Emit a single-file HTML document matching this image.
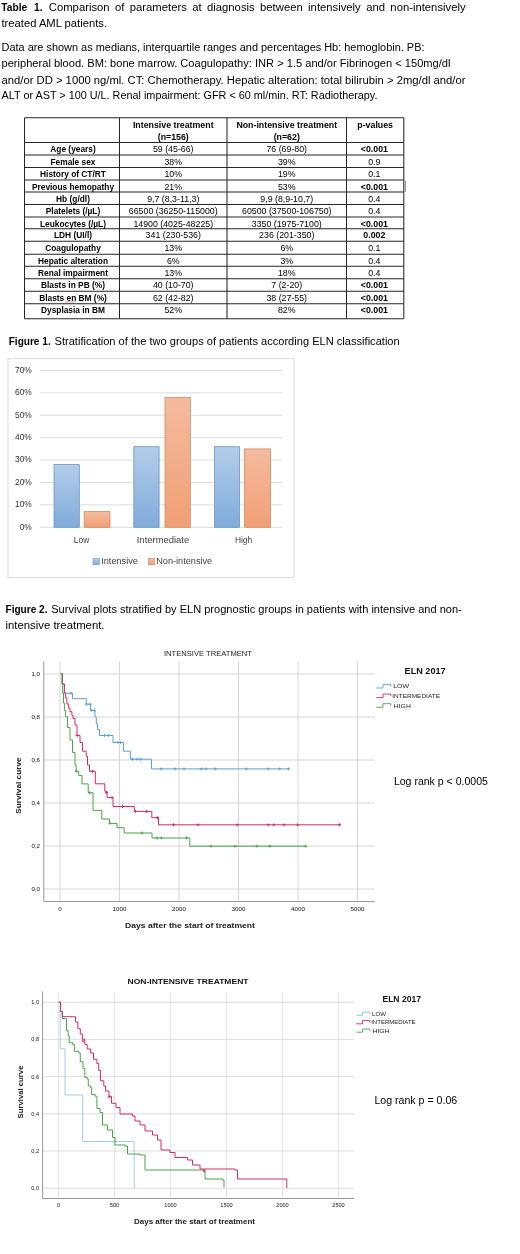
<!DOCTYPE html>
<html><head><meta charset="utf-8"><title>Table 1 / Figures</title>
<style>
html,body{margin:0;padding:0;background:#fff;}
body{width:520px;height:1254px;overflow:hidden;font-family:"Liberation Sans",sans-serif;}
svg{display:block;filter:blur(0.3px);font-family:"Liberation Sans",sans-serif;}
.b{font-weight:bold}
.body{font-size:10px;fill:#000}
.tc{font-size:8.8px;fill:#000;text-anchor:middle}
.ax{font-size:6.2px;fill:#111}
</style></head><body>
<svg width="520" height="1254" viewBox="0 0 520 1254">
<rect width="520" height="1254" fill="#fff"/>

<g id="paras">
<text x="1.3" y="11.3" class="body b" textLength="41.2" lengthAdjust="spacingAndGlyphs" word-spacing="4">Table 1.</text>
<text x="48.8" y="11.3" class="body" textLength="416.8" lengthAdjust="spacingAndGlyphs" word-spacing="2">Comparison of parameters at diagnosis between intensively and non-intensively</text>
<text x="1.5" y="27.2" class="body" textLength="105.5" lengthAdjust="spacingAndGlyphs">treated AML patients.</text>
<text x="1.5" y="51.2" class="body" textLength="423" lengthAdjust="spacingAndGlyphs">Data are shown as medians, interquartile ranges and percentages Hb: hemoglobin. PB:</text>
<text x="1.5" y="67.3" class="body" textLength="449" lengthAdjust="spacingAndGlyphs">peripheral blood. BM: bone marrow. Coagulopathy: INR &gt; 1.5 and/or Fibrinogen &lt; 150mg/dl</text>
<text x="1.5" y="83.5" class="body" textLength="464" lengthAdjust="spacingAndGlyphs">and/or DD &gt; 1000 ng/ml. CT: Chemotherapy. Hepatic alteration: total bilirubin &gt; 2mg/dl and/or</text>
<text x="1.5" y="99.3" class="body" textLength="376" lengthAdjust="spacingAndGlyphs">ALT or AST &gt; 100 U/L. Renal impairment: GFR &lt; 60 ml/min. RT: Radiotherapy.</text>
</g>
<g id="table" stroke="#262626" stroke-width="1.05" fill="none">
<line x1="24.5" y1="117.8" x2="24.5" y2="318.7"/>
<line x1="119.5" y1="117.8" x2="119.5" y2="318.7"/>
<line x1="227" y1="117.8" x2="227" y2="318.7"/>
<line x1="346.5" y1="117.8" x2="346.5" y2="318.7"/>
<line x1="403.8" y1="117.8" x2="403.8" y2="318.7"/>
<line x1="24.5" y1="117.8" x2="403.8" y2="117.8"/>
<line x1="24.5" y1="142.5" x2="403.8" y2="142.5"/>
<line x1="24.5" y1="155" x2="403.8" y2="155"/>
<line x1="24.5" y1="167.5" x2="403.8" y2="167.5"/>
<line x1="24.5" y1="180" x2="403.8" y2="180"/>
<line x1="24.5" y1="192" x2="403.8" y2="192"/>
<line x1="24.5" y1="204.5" x2="403.8" y2="204.5"/>
<line x1="24.5" y1="217" x2="403.8" y2="217"/>
<line x1="24.5" y1="228.8" x2="403.8" y2="228.8"/>
<line x1="24.5" y1="241.3" x2="403.8" y2="241.3"/>
<line x1="24.5" y1="254.2" x2="403.8" y2="254.2"/>
<line x1="24.5" y1="266.3" x2="403.8" y2="266.3"/>
<line x1="24.5" y1="278.8" x2="403.8" y2="278.8"/>
<line x1="24.5" y1="291.2" x2="403.8" y2="291.2"/>
<line x1="24.5" y1="303.8" x2="403.8" y2="303.8"/>
<line x1="24.5" y1="318.7" x2="403.8" y2="318.7"/>
<line x1="405.3" y1="180.5" x2="405.3" y2="192" stroke="#666" stroke-width="0.8"/>
</g>
<g id="tabletext">
<text x="173.25" y="128.2" class="tc b">Intensive treatment</text>
<text x="173.25" y="139.7" class="tc b">(n=156)</text>
<text x="286.75" y="128.2" class="tc b">Non-intensive treatment</text>
<text x="286.75" y="139.7" class="tc b">(n=62)</text>
<text x="375.15" y="128.2" class="tc b">p-values</text>
<text x="73" y="152.1" class="tc b" style="font-size:8.35px">Age (years)</text>
<text x="173.25" y="152.1" class="tc">59 (45-66)</text>
<text x="286.75" y="152.1" class="tc">76 (69-80)</text>
<text x="374.34999999999997" y="152.1" class="tc b">&lt;0.001</text>
<text x="73" y="164.6" class="tc b" style="font-size:8.35px">Female sex</text>
<text x="173.25" y="164.6" class="tc">38%</text>
<text x="286.75" y="164.6" class="tc">39%</text>
<text x="374.34999999999997" y="164.6" class="tc">0.9</text>
<text x="73" y="177.1" class="tc b" style="font-size:8.35px">History of CT/RT</text>
<text x="173.25" y="177.1" class="tc">10%</text>
<text x="286.75" y="177.1" class="tc">19%</text>
<text x="374.34999999999997" y="177.1" class="tc">0.1</text>
<text x="73" y="189.6" class="tc b" style="font-size:8.35px">Previous hemopathy</text>
<text x="173.25" y="189.6" class="tc">21%</text>
<text x="286.75" y="189.6" class="tc">53%</text>
<text x="374.34999999999997" y="189.6" class="tc b">&lt;0.001</text>
<text x="73" y="201.6" class="tc b" style="font-size:8.35px">Hb (g/dl)</text>
<text x="173.25" y="201.6" class="tc">9,7 (8,3-11,3)</text>
<text x="286.75" y="201.6" class="tc">9,9 (8,9-10,7)</text>
<text x="374.34999999999997" y="201.6" class="tc">0.4</text>
<text x="73" y="214.1" class="tc b" style="font-size:8.35px">Platelets (/µL)</text>
<text x="173.25" y="214.1" class="tc">66500 (36250-115000)</text>
<text x="286.75" y="214.1" class="tc">60500 (37500-106750)</text>
<text x="374.34999999999997" y="214.1" class="tc">0.4</text>
<text x="73" y="226.6" class="tc b" style="font-size:8.35px">Leukocytes (/µL)</text>
<text x="173.25" y="226.6" class="tc">14900 (4025-48225)</text>
<text x="286.75" y="226.6" class="tc">3350 (1975-7100)</text>
<text x="374.34999999999997" y="226.6" class="tc b">&lt;0.001</text>
<text x="73" y="238.4" class="tc b" style="font-size:8.35px">LDH (UI/l)</text>
<text x="173.25" y="238.4" class="tc">341 (230-536)</text>
<text x="286.75" y="238.4" class="tc">236 (201-350)</text>
<text x="374.34999999999997" y="238.4" class="tc b">0.002</text>
<text x="73" y="250.9" class="tc b" style="font-size:8.35px">Coagulopathy</text>
<text x="173.25" y="250.9" class="tc">13%</text>
<text x="286.75" y="250.9" class="tc">6%</text>
<text x="374.34999999999997" y="250.9" class="tc">0.1</text>
<text x="73" y="263.8" class="tc b" style="font-size:8.35px">Hepatic alteration</text>
<text x="173.25" y="263.8" class="tc">6%</text>
<text x="286.75" y="263.8" class="tc">3%</text>
<text x="374.34999999999997" y="263.8" class="tc">0.4</text>
<text x="73" y="275.9" class="tc b" style="font-size:8.35px">Renal impairment</text>
<text x="173.25" y="275.9" class="tc">13%</text>
<text x="286.75" y="275.9" class="tc">18%</text>
<text x="374.34999999999997" y="275.9" class="tc">0.4</text>
<text x="73" y="288.4" class="tc b" style="font-size:8.35px">Blasts in PB (%)</text>
<text x="173.25" y="288.4" class="tc">40 (10-70)</text>
<text x="286.75" y="288.4" class="tc">7 (2-20)</text>
<text x="374.34999999999997" y="288.4" class="tc b">&lt;0.001</text>
<text x="73" y="300.8" class="tc b" style="font-size:8.35px">Blasts en BM (%)</text>
<text x="173.25" y="300.8" class="tc">62 (42-82)</text>
<text x="286.75" y="300.8" class="tc">38 (27-55)</text>
<text x="374.34999999999997" y="300.8" class="tc b">&lt;0.001</text>
<text x="73" y="313.4" class="tc b" style="font-size:8.35px">Dysplasia in BM</text>
<text x="173.25" y="313.4" class="tc">52%</text>
<text x="286.75" y="313.4" class="tc">82%</text>
<text x="374.34999999999997" y="313.4" class="tc b">&lt;0.001</text>
</g>
<path d="M65.5,302.5 l1.2,-0.9 l1.2,0.9 l1.2,-0.9 l1.2,0.9 l1.2,-0.9 l1.2,0.9 l1.2,-0.9 l1.2,0.9" fill="none" stroke="#e0524f" stroke-width="0.6"/>
<text x="8.7" y="344.6" class="body b" textLength="42" lengthAdjust="spacingAndGlyphs">Figure 1.</text>
<text x="54.5" y="344.6" class="body" textLength="345.2" lengthAdjust="spacingAndGlyphs">Stratification of the two groups of patients according ELN classification</text>
<defs>
<linearGradient id="gb" x1="0" y1="0" x2="0" y2="1"><stop offset="0" stop-color="#b3cdea"/><stop offset="1" stop-color="#80abdb"/></linearGradient>
<linearGradient id="go" x1="0" y1="0" x2="0" y2="1"><stop offset="0" stop-color="#f5bb9f"/><stop offset="1" stop-color="#f19f75"/></linearGradient>
</defs>
<g id="fig1">
<rect x="8" y="358.7" width="286" height="218.8" fill="#fff" stroke="#d9d9d9" stroke-width="1"/>
<line x1="40" y1="527.3" x2="282.5" y2="527.3" stroke="#dcdcdc" stroke-width="1"/>
<text x="31.8" y="529.6" font-size="8.4" fill="#333" text-anchor="end">0%</text>
<line x1="40" y1="504.9" x2="282.5" y2="504.9" stroke="#dcdcdc" stroke-width="1"/>
<text x="31.8" y="507.2" font-size="8.4" fill="#333" text-anchor="end">10%</text>
<line x1="40" y1="482.5" x2="282.5" y2="482.5" stroke="#dcdcdc" stroke-width="1"/>
<text x="31.8" y="484.8" font-size="8.4" fill="#333" text-anchor="end">20%</text>
<line x1="40" y1="460.1" x2="282.5" y2="460.1" stroke="#dcdcdc" stroke-width="1"/>
<text x="31.8" y="462.4" font-size="8.4" fill="#333" text-anchor="end">30%</text>
<line x1="40" y1="437.7" x2="282.5" y2="437.7" stroke="#dcdcdc" stroke-width="1"/>
<text x="31.8" y="440.0" font-size="8.4" fill="#333" text-anchor="end">40%</text>
<line x1="40" y1="415.3" x2="282.5" y2="415.3" stroke="#dcdcdc" stroke-width="1"/>
<text x="31.8" y="417.6" font-size="8.4" fill="#333" text-anchor="end">50%</text>
<line x1="40" y1="392.9" x2="282.5" y2="392.9" stroke="#dcdcdc" stroke-width="1"/>
<text x="31.8" y="395.2" font-size="8.4" fill="#333" text-anchor="end">60%</text>
<line x1="40" y1="370.5" x2="282.5" y2="370.5" stroke="#dcdcdc" stroke-width="1"/>
<text x="31.8" y="372.8" font-size="8.4" fill="#333" text-anchor="end">70%</text>
<rect x="54" y="464.6" width="25.3" height="62.7" fill="url(#gb)" stroke="#6e93c0" stroke-width="0.8"/>
<rect x="84.2" y="511.6" width="25.8" height="15.7" fill="url(#go)" stroke="#cc8c60" stroke-width="0.8"/>
<rect x="133.8" y="446.7" width="25.3" height="80.6" fill="url(#gb)" stroke="#6e93c0" stroke-width="0.8"/>
<rect x="165" y="397.4" width="25.3" height="129.9" fill="url(#go)" stroke="#cc8c60" stroke-width="0.8"/>
<rect x="214.5" y="446.7" width="24.9" height="80.6" fill="url(#gb)" stroke="#6e93c0" stroke-width="0.8"/>
<rect x="244.6" y="448.9" width="26.0" height="78.4" fill="url(#go)" stroke="#cc8c60" stroke-width="0.8"/>
<text x="81.5" y="543" font-size="8.4" fill="#404040" text-anchor="middle">Low</text>
<text x="163" y="543" font-size="8.4" fill="#404040" text-anchor="middle" textLength="52.5" lengthAdjust="spacingAndGlyphs">Intermediate</text>
<text x="243.5" y="543" font-size="8.4" fill="#404040" text-anchor="middle">High</text>
<rect x="93" y="558.4" width="6.4" height="6.4" fill="url(#gb)" stroke="#6f9bd0" stroke-width="0.6"/>
<text x="101.2" y="564.2" font-size="8.4" fill="#404040" textLength="36.7" lengthAdjust="spacingAndGlyphs">Intensive</text>
<rect x="148.4" y="558.4" width="6.4" height="6.4" fill="url(#go)" stroke="#d48c62" stroke-width="0.6"/>
<text x="156.2" y="564.2" font-size="8.4" fill="#404040" textLength="56" lengthAdjust="spacingAndGlyphs">Non-intensive</text>
</g>
<text x="5.5" y="613.2" class="body b" textLength="42" lengthAdjust="spacingAndGlyphs">Figure 2.</text>
<text x="51.2" y="613.2" class="body" textLength="410.6" lengthAdjust="spacingAndGlyphs">Survival plots stratified by ELN prognostic groups in patients with intensive and non-</text>
<text x="5.5" y="629.2" class="body" textLength="99" lengthAdjust="spacingAndGlyphs">intensive treatment.</text>
<g id="plot1">
<line x1="60.0" y1="661.5" x2="60.0" y2="901.6" stroke="#cbcbcb" stroke-width="0.8"/>
<line x1="119.5" y1="661.5" x2="119.5" y2="901.6" stroke="#cbcbcb" stroke-width="0.8"/>
<line x1="179.0" y1="661.5" x2="179.0" y2="901.6" stroke="#cbcbcb" stroke-width="0.8"/>
<line x1="238.5" y1="661.5" x2="238.5" y2="901.6" stroke="#cbcbcb" stroke-width="0.8"/>
<line x1="298.0" y1="661.5" x2="298.0" y2="901.6" stroke="#cbcbcb" stroke-width="0.8"/>
<line x1="357.5" y1="661.5" x2="357.5" y2="901.6" stroke="#cbcbcb" stroke-width="0.8"/>
<line x1="44" y1="889" x2="374.7" y2="889" stroke="#cbcbcb" stroke-width="0.8"/>
<line x1="44" y1="846" x2="374.7" y2="846" stroke="#cbcbcb" stroke-width="0.8"/>
<line x1="44" y1="803" x2="374.7" y2="803" stroke="#cbcbcb" stroke-width="0.8"/>
<line x1="44" y1="760" x2="374.7" y2="760" stroke="#cbcbcb" stroke-width="0.8"/>
<line x1="44" y1="717" x2="374.7" y2="717" stroke="#cbcbcb" stroke-width="0.8"/>
<line x1="44" y1="674" x2="374.7" y2="674" stroke="#cbcbcb" stroke-width="0.8"/>
<path d="M43.8,661.5 V901.6 H374.7" fill="none" stroke="#8a8a8a" stroke-width="0.9"/>
<text x="40" y="891.2" class="ax" text-anchor="end">0,0</text>
<text x="40" y="848.2" class="ax" text-anchor="end">0,2</text>
<text x="40" y="805.2" class="ax" text-anchor="end">0,4</text>
<text x="40" y="762.2" class="ax" text-anchor="end">0,6</text>
<text x="40" y="719.2" class="ax" text-anchor="end">0,8</text>
<text x="40" y="676.2" class="ax" text-anchor="end">1,0</text>
<text x="60.0" y="911" class="ax" text-anchor="middle">0</text>
<text x="119.5" y="911" class="ax" text-anchor="middle">1000</text>
<text x="179.0" y="911" class="ax" text-anchor="middle">2000</text>
<text x="238.5" y="911" class="ax" text-anchor="middle">3000</text>
<text x="298.0" y="911" class="ax" text-anchor="middle">4000</text>
<text x="357.5" y="911" class="ax" text-anchor="middle">5000</text>
<text x="208" y="656.2" font-size="7.8" fill="#222" text-anchor="middle" textLength="88" lengthAdjust="spacingAndGlyphs">INTENSIVE TREATMENT</text>
<text x="190" y="928" font-size="7.6" fill="#222" font-weight="bold" text-anchor="middle" textLength="130" lengthAdjust="spacingAndGlyphs">Days after the start of treatment</text>
<text transform="translate(21.3,785.6) rotate(-90)" font-size="7.4" fill="#222" font-weight="bold" text-anchor="middle" textLength="56.5" lengthAdjust="spacingAndGlyphs">Survival curve</text>
<path d="M60.8,673.8 L62.5,673.8 L62.5,684 L64.4,684 L64.4,693.2 L72.5,693.2 L72.5,698.7 L86.3,698.7 L86.3,704.2 L90.6,704.2 L90.6,710.5 L95,710.5 L95,717 L96.3,717 L96.3,723.5 L97.5,723.5 L97.5,729.5 L99.5,729.5 L99.5,735.5 L113,735.5 L113,742.5 L123.5,742.5 L123.5,751.2 L130.3,751.2 L130.3,759.2 L151.5,759.2 L151.5,768.9 L289.5,768.9" fill="none" stroke="#5b9fd8" stroke-width="1.0" stroke-linejoin="miter"/>
<path d="M69.5,693.2 H72.5 M71,691.7 V694.7" stroke="#5b9fd8" stroke-width="0.9" fill="none"/>
<path d="M84.8,704.2 H87.8 M86.3,702.7 V705.7" stroke="#5b9fd8" stroke-width="0.9" fill="none"/>
<path d="M88.5,704.2 H91.5 M90,702.7 V705.7" stroke="#5b9fd8" stroke-width="0.9" fill="none"/>
<path d="M90.3,710.5 H93.3 M91.8,709.0 V712.0" stroke="#5b9fd8" stroke-width="0.9" fill="none"/>
<path d="M92.9,710.5 H95.9 M94.4,709.0 V712.0" stroke="#5b9fd8" stroke-width="0.9" fill="none"/>
<path d="M103.0,735.5 H106.0 M104.5,734.0 V737.0" stroke="#5b9fd8" stroke-width="0.9" fill="none"/>
<path d="M107.2,735.5 H110.2 M108.7,734.0 V737.0" stroke="#5b9fd8" stroke-width="0.9" fill="none"/>
<path d="M116.5,742.5 H119.5 M118,741.0 V744.0" stroke="#5b9fd8" stroke-width="0.9" fill="none"/>
<path d="M119.0,742.5 H122.0 M120.5,741.0 V744.0" stroke="#5b9fd8" stroke-width="0.9" fill="none"/>
<path d="M131.0,759.2 H134.0 M132.5,757.7 V760.7" stroke="#5b9fd8" stroke-width="0.9" fill="none"/>
<path d="M135.5,759.2 H138.5 M137,757.7 V760.7" stroke="#5b9fd8" stroke-width="0.9" fill="none"/>
<path d="M139.0,759.2 H142.0 M140.5,757.7 V760.7" stroke="#5b9fd8" stroke-width="0.9" fill="none"/>
<path d="M159.7,768.9 H162.7 M161.2,767.4 V770.4" stroke="#5b9fd8" stroke-width="0.9" fill="none"/>
<path d="M173.5,768.9 H176.5 M175,767.4 V770.4" stroke="#5b9fd8" stroke-width="0.9" fill="none"/>
<path d="M182.5,768.9 H185.5 M184,767.4 V770.4" stroke="#5b9fd8" stroke-width="0.9" fill="none"/>
<path d="M199.7,768.9 H202.7 M201.2,767.4 V770.4" stroke="#5b9fd8" stroke-width="0.9" fill="none"/>
<path d="M204.5,768.9 H207.5 M206,767.4 V770.4" stroke="#5b9fd8" stroke-width="0.9" fill="none"/>
<path d="M213.8,768.9 H216.8 M215.3,767.4 V770.4" stroke="#5b9fd8" stroke-width="0.9" fill="none"/>
<path d="M244.8,768.9 H247.8 M246.3,767.4 V770.4" stroke="#5b9fd8" stroke-width="0.9" fill="none"/>
<path d="M266.7,768.9 H269.7 M268.2,767.4 V770.4" stroke="#5b9fd8" stroke-width="0.9" fill="none"/>
<path d="M278.2,768.9 H281.2 M279.7,767.4 V770.4" stroke="#5b9fd8" stroke-width="0.9" fill="none"/>
<path d="M287.0,768.9 H290.0 M288.5,767.4 V770.4" stroke="#5b9fd8" stroke-width="0.9" fill="none"/>
<path d="M60.8,673.8 L62.5,673.8 L62.5,684 L64.4,684 L64.4,693 L65.6,693 L65.6,698 L66.9,698 L66.9,704 L68.7,704 L68.7,708 L70,708 L70,711.7 L71.9,711.7 L71.9,715.5 L73.1,715.5 L73.1,718.6 L75,718.6 L75,725 L77,725 L77,735.5 L80,735.5 L80,742.5 L82.5,742.5 L82.5,751.2 L86.2,751.2 L86.2,756.2 L87.5,756.2 L87.5,765 L89.5,765 L89.5,771.3 L95.3,771.3 L95.3,783.8 L104.8,783.8 L104.8,791.3 L107,791.3 L107,797.5 L113,797.5 L113,806.5 L134.3,806.5 L134.3,811.4 L151.8,811.4 L151.8,817.7 L158.5,817.7 L158.5,824.8 L340.7,824.8" fill="none" stroke="#d42a62" stroke-width="1.0" stroke-linejoin="miter"/>
<path d="M75.5,735.5 H78.5 M77,734.0 V737.0" stroke="#d42a62" stroke-width="0.9" fill="none"/>
<path d="M91.0,771.3 H94.0 M92.5,769.8 V772.8" stroke="#d42a62" stroke-width="0.9" fill="none"/>
<path d="M105.0,792.5 H108.0 M106.5,791.0 V794.0" stroke="#d42a62" stroke-width="0.9" fill="none"/>
<path d="M110.5,797.5 H113.5 M112,796.0 V799.0" stroke="#d42a62" stroke-width="0.9" fill="none"/>
<path d="M121.0,806.5 H124.0 M122.5,805.0 V808.0" stroke="#d42a62" stroke-width="0.9" fill="none"/>
<path d="M134.0,811.4 H137.0 M135.5,809.9 V812.9" stroke="#d42a62" stroke-width="0.9" fill="none"/>
<path d="M145.0,811.4 H148.0 M146.5,809.9 V812.9" stroke="#d42a62" stroke-width="0.9" fill="none"/>
<path d="M156.0,817.7 H159.0 M157.5,816.2 V819.2" stroke="#d42a62" stroke-width="0.9" fill="none"/>
<path d="M172.0,824.8 H175.0 M173.5,823.3 V826.3" stroke="#d42a62" stroke-width="0.9" fill="none"/>
<path d="M196.5,824.8 H199.5 M198,823.3 V826.3" stroke="#d42a62" stroke-width="0.9" fill="none"/>
<path d="M235.7,824.8 H238.7 M237.2,823.3 V826.3" stroke="#d42a62" stroke-width="0.9" fill="none"/>
<path d="M266.7,824.8 H269.7 M268.2,823.3 V826.3" stroke="#d42a62" stroke-width="0.9" fill="none"/>
<path d="M272.3,824.8 H275.3 M273.8,823.3 V826.3" stroke="#d42a62" stroke-width="0.9" fill="none"/>
<path d="M282.5,824.8 H285.5 M284,823.3 V826.3" stroke="#d42a62" stroke-width="0.9" fill="none"/>
<path d="M296.1,824.8 H299.1 M297.6,823.3 V826.3" stroke="#d42a62" stroke-width="0.9" fill="none"/>
<path d="M338.0,824.8 H341.0 M339.5,823.3 V826.3" stroke="#d42a62" stroke-width="0.9" fill="none"/>
<path d="M60.8,673.8 L61.9,673.8 L61.9,684 L62.7,684 L62.7,693 L63.5,693 L63.5,703 L64.4,703 L64.4,710.5 L65.6,710.5 L65.6,716.7 L67.5,716.7 L67.5,727.5 L70,727.5 L70,740 L72.5,740 L72.5,752.5 L75,752.5 L75,765 L76.2,765 L76.2,771.3 L78.7,771.3 L78.7,775.5 L82,775.5 L82,783.9 L88.2,783.9 L88.2,792.7 L93,792.7 L93,810.3 L101.8,810.3 L101.8,819 L109.5,819 L109.5,823.4 L117,823.4 L117,827.7 L124.2,827.7 L124.2,833 L152,833 L152,838 L189.8,838 L189.8,846.2 L306,846.2" fill="none" stroke="#4aa54a" stroke-width="1.0" stroke-linejoin="miter"/>
<path d="M74.8,771.3 H77.8 M76.3,769.8 V772.8" stroke="#4aa54a" stroke-width="0.9" fill="none"/>
<path d="M88.0,792.7 H91.0 M89.5,791.2 V794.2" stroke="#4aa54a" stroke-width="0.9" fill="none"/>
<path d="M108.5,823.4 H111.5 M110,821.9 V824.9" stroke="#4aa54a" stroke-width="0.9" fill="none"/>
<path d="M140.5,833 H143.5 M142,831.5 V834.5" stroke="#4aa54a" stroke-width="0.9" fill="none"/>
<path d="M155.5,838 H158.5 M157,836.5 V839.5" stroke="#4aa54a" stroke-width="0.9" fill="none"/>
<path d="M159.7,838 H162.7 M161.2,836.5 V839.5" stroke="#4aa54a" stroke-width="0.9" fill="none"/>
<path d="M185.0,838 H188.0 M186.5,836.5 V839.5" stroke="#4aa54a" stroke-width="0.9" fill="none"/>
<path d="M209.5,846.2 H212.5 M211,844.7 V847.7" stroke="#4aa54a" stroke-width="0.9" fill="none"/>
<path d="M233.5,846.2 H236.5 M235,844.7 V847.7" stroke="#4aa54a" stroke-width="0.9" fill="none"/>
<path d="M255.3,846.2 H258.3 M256.8,844.7 V847.7" stroke="#4aa54a" stroke-width="0.9" fill="none"/>
<path d="M268.4,846.2 H271.4 M269.9,844.7 V847.7" stroke="#4aa54a" stroke-width="0.9" fill="none"/>
<path d="M304.3,846.2 H307.3 M305.8,844.7 V847.7" stroke="#4aa54a" stroke-width="0.9" fill="none"/>
<text x="425.1" y="673.9" font-size="9.2" font-weight="bold" fill="#111" text-anchor="middle" textLength="41" lengthAdjust="spacingAndGlyphs">ELN 2017</text>
<path d="M376.3,688.0 H383 V684.4 H390.8 V686.5" fill="none" stroke="#5b9fd8" stroke-width="0.9"/>
<text x="393.2" y="688.4" font-size="6" fill="#222" textLength="16" lengthAdjust="spacingAndGlyphs">LOW</text>
<path d="M376.3,697.6 H383 V694.1 H390.8 V696.1" fill="none" stroke="#d42a62" stroke-width="0.9"/>
<text x="392.3" y="698.1" font-size="6" fill="#222" textLength="47.7" lengthAdjust="spacingAndGlyphs">INTERMEDIATE</text>
<path d="M376.3,707.3 H383 V703.7 H390.8 V705.8" fill="none" stroke="#4aa54a" stroke-width="0.9"/>
<text x="393.8" y="707.7" font-size="6" fill="#222" textLength="17" lengthAdjust="spacingAndGlyphs">HIGH</text>
<text x="393.9" y="785.2" class="body" textLength="94" lengthAdjust="spacingAndGlyphs" style="font-size:10.6px">Log rank p &lt; 0.0005</text>
</g>
<g id="plot2">
<line x1="58.5" y1="991.5" x2="58.5" y2="1198.5" stroke="#dcdcdc" stroke-width="0.8"/>
<line x1="114.5" y1="991.5" x2="114.5" y2="1198.5" stroke="#dcdcdc" stroke-width="0.8"/>
<line x1="170.5" y1="991.5" x2="170.5" y2="1198.5" stroke="#dcdcdc" stroke-width="0.8"/>
<line x1="226.5" y1="991.5" x2="226.5" y2="1198.5" stroke="#dcdcdc" stroke-width="0.8"/>
<line x1="282.5" y1="991.5" x2="282.5" y2="1198.5" stroke="#dcdcdc" stroke-width="0.8"/>
<line x1="338.5" y1="991.5" x2="338.5" y2="1198.5" stroke="#dcdcdc" stroke-width="0.8"/>
<line x1="43" y1="1188.2" x2="354" y2="1188.2" stroke="#d4d4d4" stroke-width="0.8"/>
<line x1="43" y1="1151.0" x2="354" y2="1151.0" stroke="#d4d4d4" stroke-width="0.8"/>
<line x1="43" y1="1113.8" x2="354" y2="1113.8" stroke="#d4d4d4" stroke-width="0.8"/>
<line x1="43" y1="1076.6" x2="354" y2="1076.6" stroke="#d4d4d4" stroke-width="0.8"/>
<line x1="43" y1="1039.4" x2="354" y2="1039.4" stroke="#d4d4d4" stroke-width="0.8"/>
<line x1="43" y1="1002.2" x2="354" y2="1002.2" stroke="#d4d4d4" stroke-width="0.8"/>
<path d="M42.6,991.5 V1198.5 H354.2" fill="none" stroke="#8a8a8a" stroke-width="0.9"/>
<text x="39" y="1190.2" class="ax" text-anchor="end" style="font-size:5.6px">0,0</text>
<text x="39" y="1153.0" class="ax" text-anchor="end" style="font-size:5.6px">0,2</text>
<text x="39" y="1115.8" class="ax" text-anchor="end" style="font-size:5.6px">0,4</text>
<text x="39" y="1078.6" class="ax" text-anchor="end" style="font-size:5.6px">0,6</text>
<text x="39" y="1041.4" class="ax" text-anchor="end" style="font-size:5.6px">0,8</text>
<text x="39" y="1004.2" class="ax" text-anchor="end" style="font-size:5.6px">1,0</text>
<text x="58.5" y="1207.3" class="ax" text-anchor="middle" style="font-size:5.6px">0</text>
<text x="114.5" y="1207.3" class="ax" text-anchor="middle" style="font-size:5.6px">500</text>
<text x="170.5" y="1207.3" class="ax" text-anchor="middle" style="font-size:5.6px">1000</text>
<text x="226.5" y="1207.3" class="ax" text-anchor="middle" style="font-size:5.6px">1500</text>
<text x="282.5" y="1207.3" class="ax" text-anchor="middle" style="font-size:5.6px">2000</text>
<text x="338.5" y="1207.3" class="ax" text-anchor="middle" style="font-size:5.6px">2500</text>
<text x="188" y="984" font-size="7.3" fill="#111" font-weight="bold" text-anchor="middle" textLength="121" lengthAdjust="spacingAndGlyphs">NON-INTENSIVE TREATMENT</text>
<text x="194.5" y="1224" font-size="7" fill="#222" font-weight="bold" text-anchor="middle" textLength="121" lengthAdjust="spacingAndGlyphs">Days after the start of treatment</text>
<text transform="translate(22.7,1092) rotate(-90)" font-size="7" fill="#222" font-weight="bold" text-anchor="middle" textLength="53" lengthAdjust="spacingAndGlyphs">Survival curve</text>
<path d="M58.8,1002.2 L60.2,1002.2 L60.2,1048.7 L65,1048.7 L65,1095 L82.7,1095 L82.7,1141.5 L134.2,1141.5 L134.2,1188" fill="none" stroke="#9ac6ea" stroke-width="0.9" stroke-linejoin="miter"/>
<path d="M58.8,1002.2 L60.6,1002.2 L60.6,1011.5 L62.3,1011.5 L62.3,1018.5 L65.8,1018.5 L66.5,1018.5 L66.5,1030.6 L68.2,1030.6 L68.2,1035.8 L69.2,1035.8 L69.2,1042.7 L72.7,1042.7 L72.7,1044.4 L74.4,1044.4 L74.4,1051.3 L78.9,1051.3 L78.9,1053 L80.3,1053 L80.3,1061.7 L83,1061.7 L83,1068.6 L84.8,1068.6 L84.8,1077.3 L87.2,1077.3 L87.2,1079 L88.3,1079 L88.3,1086 L90.7,1086 L90.7,1087.7 L91.7,1087.7 L91.7,1094.6 L95.2,1094.6 L95.2,1096.3 L96.9,1096.3 L96.9,1108.5 L100,1108.5 L100,1112.5 L102.5,1112.5 L102.5,1125 L107.5,1125 L107.5,1130 L112.5,1130 L112.5,1137.5 L115,1137.5 L115,1145 L125,1145 L125,1146 L127.5,1146 L127.5,1154 L140,1154 L140,1155 L145,1155 L145,1170 L202.5,1170 L205,1170 L205,1179 L222.5,1179 L222.5,1180 L224,1180 L224,1187.5" fill="none" stroke="#4aa54a" stroke-width="1.0" stroke-linejoin="miter"/>
<path d="M58.8,1002.2 L60.6,1002.2 L60.6,1011.5 L62.3,1011.5 L62.3,1016.7 L73.7,1016.7 L75.5,1016.7 L75.5,1022 L77.9,1022 L77.9,1028.8 L80.3,1028.8 L80.3,1034 L82.4,1034 L82.4,1039.2 L84.8,1039.2 L84.8,1044.4 L87.2,1044.4 L87.2,1049 L90.7,1049 L90.7,1053 L93.5,1053 L93.5,1059.3 L96.9,1059.3 L96.9,1063.5 L98.7,1063.5 L98.7,1070.4 L100.4,1070.4 L100.4,1080.8 L103.8,1080.8 L103.8,1086 L105.6,1086 L105.6,1091 L109,1091 L109,1096.3 L111.5,1096.3 L111.5,1103.3 L116,1103.3 L116,1107.5 L120,1107.5 L120,1114 L132.5,1114 L132.5,1116 L135,1116 L135,1121 L140,1121 L140,1125 L145,1125 L145,1131 L152.5,1131 L152.5,1135 L157.5,1135 L157.5,1140 L161,1140 L161,1150 L170,1150 L170,1152.5 L175,1152.5 L175,1157.5 L187.5,1157.5 L187.5,1160 L192.5,1160 L192.5,1165 L200,1165 L200,1169 L235,1169 L235,1170 L237.5,1170 L237.5,1179 L286.8,1179 L286.8,1188" fill="none" stroke="#d42a62" stroke-width="1.0" stroke-linejoin="miter"/>
<path d="M81.5,1041 H84.5 M83,1039.5 V1042.5" stroke="#d42a62" stroke-width="0.9" fill="none"/>
<path d="M107.5,1097 H110.5 M109,1095.5 V1098.5" stroke="#d42a62" stroke-width="0.9" fill="none"/>
<path d="M202.5,1171 H205.5 M204,1169.5 V1172.5" stroke="#d42a62" stroke-width="0.9" fill="none"/>
<text x="401.7" y="1002" font-size="8.4" font-weight="bold" fill="#111" text-anchor="middle" textLength="38.5" lengthAdjust="spacingAndGlyphs">ELN 2017</text>
<path d="M356.3,1015.3 H362.5 V1012.1 H369.8 V1014.0" fill="none" stroke="#8cc0e6" stroke-width="0.9"/>
<text x="372" y="1015.7" font-size="5.6" fill="#222" textLength="14" lengthAdjust="spacingAndGlyphs">LOW</text>
<path d="M356.3,1023.8 H362.5 V1020.6 H369.8 V1022.5" fill="none" stroke="#d42a62" stroke-width="0.9"/>
<text x="371.2" y="1024.2" font-size="5.6" fill="#222" textLength="44.4" lengthAdjust="spacingAndGlyphs">INTERMEDIATE</text>
<path d="M356.3,1032.2 H362.5 V1029.0 H369.8 V1030.9" fill="none" stroke="#4aa54a" stroke-width="0.9"/>
<text x="372.5" y="1032.6" font-size="5.6" fill="#222" textLength="17" lengthAdjust="spacingAndGlyphs">HIGH</text>
<text x="374.4" y="1103.6" class="body" textLength="82.8" lengthAdjust="spacingAndGlyphs" style="font-size:10.6px">Log rank p = 0.06</text>
</g>
</svg></body></html>
